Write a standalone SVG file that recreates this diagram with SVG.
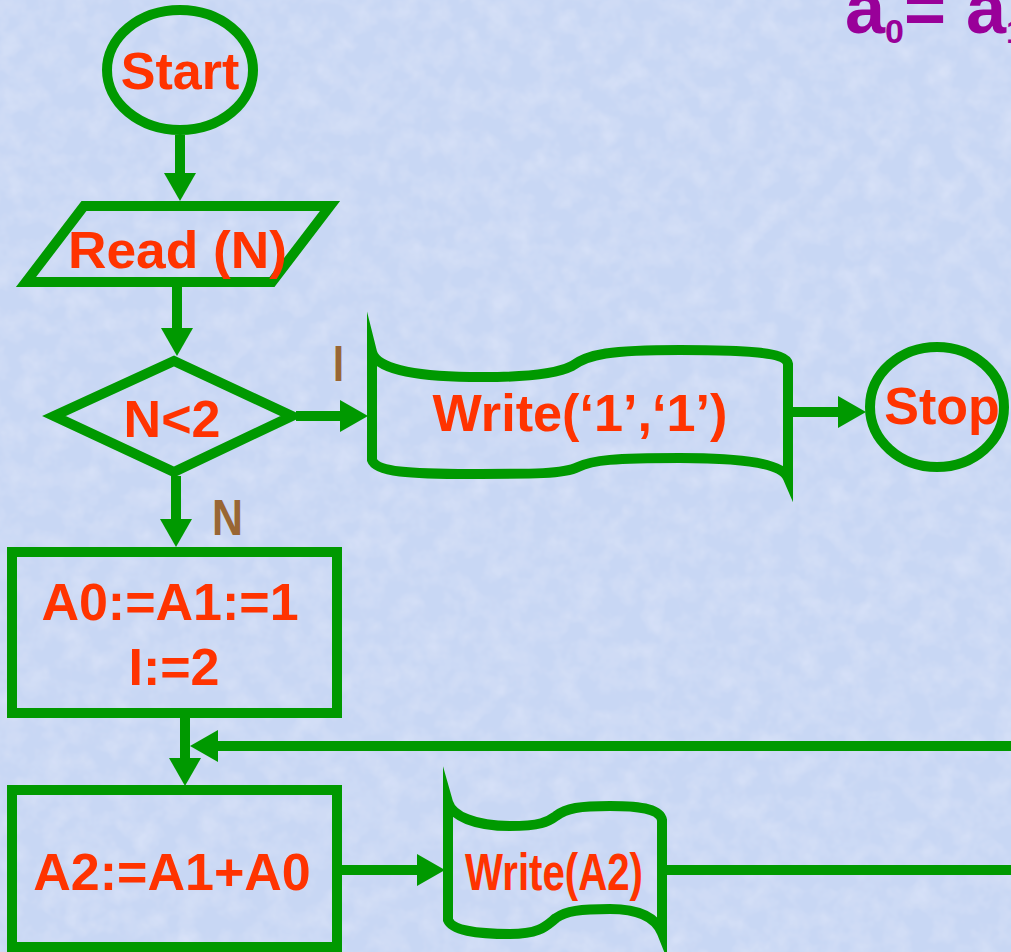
<svg xmlns="http://www.w3.org/2000/svg" width="1011" height="952" viewBox="0 0 1011 952">
<style>
.shape{fill:none;stroke:#009900;stroke-width:10;stroke-linejoin:miter;stroke-miterlimit:10}
.conn{fill:none;stroke:#009900;stroke-width:10}
.t{font-family:"Liberation Sans",Arial,sans-serif;font-weight:bold;font-size:52px;fill:#ff3300;text-anchor:middle}
.lbl{font-family:"Liberation Sans",Arial,sans-serif;font-weight:bold;font-size:50px;fill:#996633}
.ttl{font-family:"Liberation Sans",Arial,sans-serif;font-weight:bold;font-size:72px;fill:#990099}
</style>
<defs>
<marker id="ah" markerUnits="userSpaceOnUse" markerWidth="30" markerHeight="34" refX="0" refY="16" orient="auto">
<path d="M0,0 L28,16 L0,32 Z" fill="#009900"/>
</marker>
<filter id="tex" x="0" y="0" width="100%" height="100%">
<feTurbulence type="fractalNoise" baseFrequency="0.045" numOctaves="3" seed="7" result="n"/>
<feColorMatrix in="n" type="matrix" values="0 0 0 0 0.80  0 0 0 0 0.84  0 0 0 0 0.97  0.9 -0.9 0 0 0.2" result="c"/>
<feComposite in="c" in2="SourceGraphic" operator="over"/>
</filter>
</defs>
<rect x="0" y="0" width="1011" height="952" fill="#c8d7f4"/>
<rect x="0" y="0" width="1011" height="952" fill="#c8d7f4" filter="url(#tex)" opacity="0.6"/>

<g id="title">
<text class="ttl" x="845" y="33">a<tspan font-size="34" dy="10">0</tspan><tspan dy="-10">= a</tspan><tspan font-size="34" dy="10">1</tspan></text>
</g>

<g id="connectors">
<line class="conn" x1="180" y1="135" x2="180" y2="173" marker-end="url(#ah)"/>
<line class="conn" x1="177" y1="287" x2="177" y2="328" marker-end="url(#ah)"/>
<line class="conn" x1="296" y1="416" x2="340" y2="416" marker-end="url(#ah)"/>
<line class="conn" x1="176" y1="476" x2="176" y2="519" marker-end="url(#ah)"/>
<line class="conn" x1="792" y1="412" x2="838" y2="412" marker-end="url(#ah)"/>
<line class="conn" x1="185" y1="718" x2="185" y2="758" marker-end="url(#ah)"/>
<line class="conn" x1="1015" y1="746" x2="218" y2="746" marker-end="url(#ah)"/>
<line class="conn" x1="342" y1="870" x2="417" y2="870" marker-end="url(#ah)"/>
<line class="conn" x1="662" y1="870" x2="1015" y2="870"/>
<text class="lbl" x="333" y="381" textLength="11" lengthAdjust="spacingAndGlyphs">I</text>
<text class="lbl" x="212" y="535" textLength="31" lengthAdjust="spacingAndGlyphs">N</text>
</g>

<g id="start">
<ellipse class="shape" cx="180" cy="70" rx="73" ry="60"/>
<text class="t" x="180" y="89">Start</text>
</g>

<g id="read">
<path class="shape" d="M84,206 L330,206 L272,282 L26,282 Z"/>
<text class="t" x="68" y="268" style="text-anchor:start" textLength="219" lengthAdjust="spacingAndGlyphs">Read (N)</text>
</g>

<g id="decision">
<path class="shape" d="M174,361 L292,416 L174,472 L54,416 Z"/>
<text class="t" x="172" y="437">N&lt;2</text>
</g>

<g id="write1">
<path class="shape" d="M372,352 C376,368 410,376 470,377 C535,378 560,372 572,366 C588,354 610,350 680,350 C745,350 786,352 788,364 L788,478 C782,464 745,458 680,458 C615,458 592,460 578,467 C564,474 535,474 470,474 C410,474 376,472 372,460 Z"/>
<text class="t" x="580" y="431" textLength="295" lengthAdjust="spacingAndGlyphs">Write(‘1’,‘1’)</text>
</g>

<g id="stop">
<ellipse class="shape" cx="937" cy="407" rx="67" ry="60"/>
<text class="t" x="942" y="424">Stop</text>
</g>

<g id="init">
<rect class="shape" x="12" y="552" width="325" height="161"/>
<text class="t" x="170" y="620">A0:=A1:=1</text>
<text class="t" x="174" y="685">I:=2</text>
</g>

<g id="calc">
<rect class="shape" x="12" y="790" width="325" height="157"/>
<text class="t" x="172" y="890">A2:=A1+A0</text>
</g>

<g id="write2">
<path class="shape" d="M448,802 C452,816 475,826 510,826 C540,826 548,822 556,816 C566,808 580,806 610,806 C645,806 660,810 662,820 L662,933 C656,918 640,909 610,909 C580,909 566,911 556,918 C546,926 540,934 510,934 C475,934 452,930 448,920 Z"/>
<text class="t" x="554" y="890" textLength="178" lengthAdjust="spacingAndGlyphs">Write(A2)</text>
</g>
</svg>
